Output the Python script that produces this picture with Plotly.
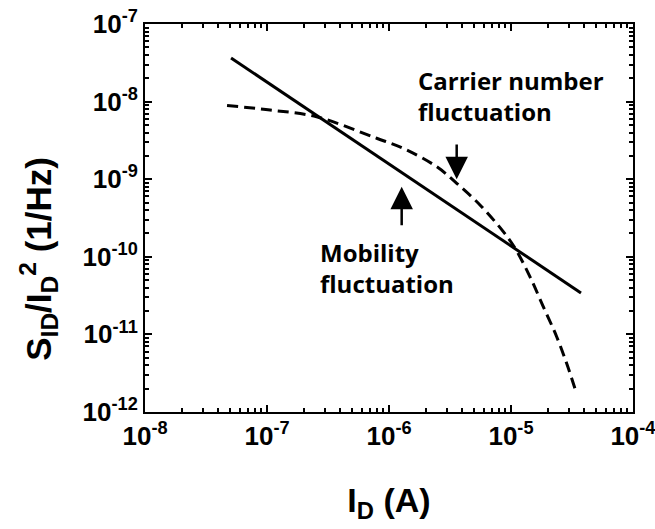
import plotly.graph_objects as go

# --- data ---
mobility_x = [5.07e-8, 3.75e-5]
mobility_y = [3.65e-8, 3.42e-11]

carrier_x = [4.7e-8, 1.06e-7, 2.55e-7, 7.92e-7, 1.31e-6, 2.46e-6, 3.59e-6,
             5.57e-6, 8.65e-6, 1.08e-5, 1.43e-5, 1.84e-5, 2.37e-5, 2.86e-5, 3.41e-5]
carrier_y = [8.9e-9, 7.8e-9, 6.38e-9, 3.37e-9, 2.5e-9, 1.45e-9, 8.85e-10,
             4.66e-10, 2.11e-10, 1.29e-10, 5.55e-11, 2.28e-11, 9.33e-12, 4.24e-12, 1.83e-12]

x_exps = [-8, -7, -6, -5, -4]
y_exps = [-12, -11, -10, -9, -8, -7]

def labels(exps):
    return ["<b>10<sup>%d</sup></b>" % e for e in exps]

def major_vals(exps):
    return [10.0 ** e for e in exps]

def minor_vals(exps):
    return [d * 10.0 ** e for e in exps[:-1] for d in range(2, 10)]

fig = go.Figure()
fig.add_trace(go.Scatter(x=mobility_x, y=mobility_y, mode="lines",
                         line=dict(color="black", width=3), showlegend=False))
fig.add_trace(go.Scatter(x=carrier_x, y=carrier_y, mode="lines", line_shape="spline",
                         line=dict(color="black", width=3, dash="11px,6px"), showlegend=False))

tickfont = dict(family="Liberation Sans", size=26, color="black")
common = dict(type="log", showline=True, linecolor="black", linewidth=2, mirror="allticks",
              ticks="inside", ticklen=7, tickwidth=2, tickcolor="black",
              showgrid=False, zeroline=False, tickfont=tickfont,
              automargin=False, ticklabeloverflow="allow", tickmode="array")
minor_style = dict(ticks="inside", ticklen=4, tickwidth=1.5, tickcolor="black", showgrid=False)

fig.update_xaxes(range=[-8.0005, -3.9995], tickvals=major_vals(x_exps),
                 ticktext=labels(x_exps),
                 minor=dict(tickvals=minor_vals(x_exps), **minor_style),
                 title=dict(text="<b>I<sub>D</sub> (A)</b>",
                            font=dict(family="Liberation Sans", size=34, color="black"),
                            standoff=38),
                 **common)
fig.update_yaxes(range=[-12.0005, -6.9995], tickvals=major_vals(y_exps),
                 ticktext=labels(y_exps),
                 minor=dict(tickvals=minor_vals(y_exps), **minor_style),
                 **common)

# y-axis title
fig.add_annotation(xref="paper", yref="paper", x=0, y=0.395, xshift=-106,
                   text="<b>S<sub>ID</sub>/I<sub>D</sub><sup>2</sup> (1/Hz)</b>",
                   textangle=-90, showarrow=False, xanchor="center", yanchor="middle",
                   font=dict(family="Liberation Sans", size=35, color="black"))

txtfont = dict(family="Open Sans", size=24, color="black", weight="bold")
fig.add_annotation(x=-5.78, y=-7.93, xref="x", yref="y", text="Carrier number<br>fluctuation",
                   showarrow=False, xanchor="left", yanchor="middle", align="left", font=txtfont)
fig.add_annotation(x=-6.58, y=-10.144, xref="x", yref="y", text="Mobility<br>fluctuation",
                   showarrow=False, xanchor="left", yanchor="middle", align="left", font=txtfont)
# arrows
fig.add_annotation(x=-5.445, y=-9.0, ax=-5.445, ay=-8.533, xref="x", yref="y",
                   axref="x", ayref="y", text="", showarrow=True, arrowhead=2,
                   arrowsize=1.8, arrowwidth=2.5, arrowcolor="black")
fig.add_annotation(x=-5.896, y=-9.097, ax=-5.896, ay=-9.612, xref="x", yref="y",
                   axref="x", ayref="y", text="", showarrow=True, arrowhead=2,
                   arrowsize=1.8, arrowwidth=2.5, arrowcolor="black")

fig.update_layout(width=655, height=529, margin=dict(l=145, r=22, t=24, b=117),
                  plot_bgcolor="white", paper_bgcolor="white")
fig.write_html("out.html", config={"displayModeBar": False},
               post_script="document.body.style.margin='0px';")
